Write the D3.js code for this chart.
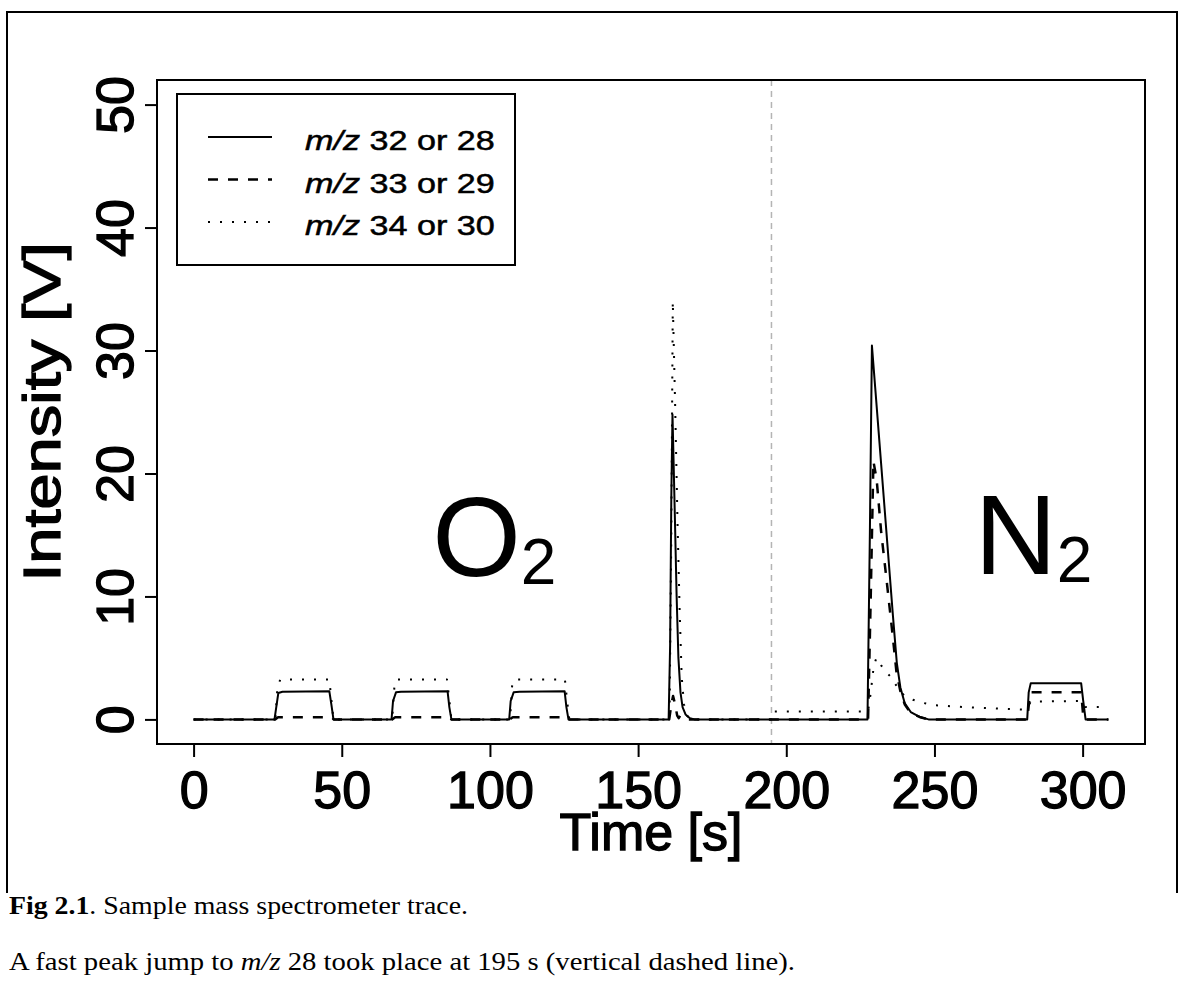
<!DOCTYPE html>
<html>
<head>
<meta charset="utf-8">
<script src="https://cdn.jsdelivr.net/npm/d3@7"></script>
<style>
  body { margin: 0; background: #fff; }
  svg { display: block; }
</style>
</head>
<body>
<script>
// Datos (tiempo en s, intensidad en V)
const t32 = [0, 27.3, 28.6, 30, 45.8, 46.5, 47.2, 66.8, 67.3, 68.3, 70, 85.7, 86.3, 87,
  106.5, 107, 108, 110, 125.2, 125.8, 126.5, 160.3, 160.8, 161.2, 161.6, 162.4, 163.0, 163.6,
  164.3, 165, 166, 167.5, 169, 227.4, 228.2, 228.9, 230, 232, 234, 236, 237.3, 238.5, 240,
  242, 245, 248, 281.3, 281.8, 282.5, 299.5, 300.2, 301, 308.7];
const v32 = [0, 0, 2.15, 2.25, 2.3, 1.2, 0, 0, 1.5, 2.2, 2.25, 2.3, 1.0, 0,
  0, 1.5, 2.2, 2.25, 2.3, 1.0, 0, 0, 6, 18, 24.8, 16.5, 10, 5,
  2.2, 1.0, 0.4, 0.1, 0, 0, 15, 30.4, 27, 20.8, 14.6, 8.4, 4.6, 2.6, 1.3,
  0.6, 0.2, 0, 0, 2.2, 2.95, 2.95, 1.5, 0, 0];

const t33 = [0, 27.5, 28.5, 46.5, 47.3, 67, 68, 86.3, 87, 106.7, 107.7, 125.8, 126.5,
  160.5, 161.2, 161.8, 162.5, 163.2, 163.7, 164.2, 165, 166, 227.6, 228.5, 229.4, 230.5,
  232, 234, 236, 237.2, 238.5, 240, 242, 245, 248, 281.3, 282.3, 299.5, 300.3, 308.7];
const v33 = [0, 0, 0.18, 0.18, 0, 0, 0.18, 0.18, 0, 0, 0.18, 0.18, 0,
  0, 1.2, 1.9, 1.2, 0.3, 0.1, 0.3, 0.15, 0, 0, 10, 21.0, 19.5,
  15.3, 11, 6.6, 3.8, 2.3, 1.2, 0.5, 0.2, 0, 0, 2.2, 2.2, 0, 0];

const t34 = [0, 27.6, 28.3, 29.3, 45.8, 46.5, 47.2, 67, 67.8, 68.5, 85.5, 86.3, 87,
  106.8, 107.5, 108.3, 125.3, 126, 126.8, 160.6, 161.2, 161.7, 162.5, 163.3, 164, 164.7,
  165.5, 166.5, 168, 195, 195.5, 227.6, 228.4, 229.5, 230.4, 232, 233.5, 235.5, 238, 240,
  242.7, 246, 250, 260, 270, 280, 281.5, 282.5, 299.5, 300.3, 301, 308.7];
const v34 = [0, 0, 2.7, 3.25, 3.25, 1.6, 0, 0, 2.8, 3.25, 3.25, 1.6, 0,
  0, 2.8, 3.25, 3.25, 1.6, 0, 0, 15, 34, 25.5, 16, 9, 3.5,
  1.2, 0.3, 0, 0, 0.65, 0.65, 2, 4.3, 5.0, 4.4, 3.9, 3.4, 2.4, 1.9,
  1.6, 1.35, 1.15, 1.0, 0.9, 0.8, 1.0, 1.45, 1.5, 1.2, 1.0, 1.0];

const xTicks = [0, 50, 100, 150, 200, 250, 300];
const yTicks = [0, 10, 20, 30, 40, 50];
const seriesNames = ["32 or 28", "33 or 29", "34 or 30"];
const peakJump = 195;

// Tamaño y área del gráfico
const W = 1181, H = 998;
const plot = {left: 157, right: 1145, top: 80, bottom: 744};
const sans = "'Liberation Sans', Arial, sans-serif";
const serif = "'Liberation Serif', 'Times New Roman', serif";

const svg = d3.select("body")
  .append("svg")
  .attr("width", W)
  .attr("height", H);

// Marco exterior de la figura
svg.append("path")
  .attr("d", "M7,893 V12 H1177 V893")
  .attr("fill", "none")
  .attr("stroke", "#000")
  .attr("stroke-width", 2);

// Escalas (rango de R extendido un 4%)
const xMax = d3.max(t32);
const x = d3.scaleLinear()
  .domain([-0.04 * xMax, xMax * 1.04])
  .range([plot.left, plot.right]);
const y = d3.scaleLinear()
  .domain([-2, 52])
  .range([plot.bottom, plot.top]);

// Línea vertical del salto de pico
svg.append("line")
  .attr("x1", x(peakJump)).attr("x2", x(peakJump))
  .attr("y1", plot.top).attr("y2", plot.bottom)
  .attr("stroke", "#b4b4b4")
  .attr("stroke-width", 1.5)
  .attr("stroke-dasharray", "6,5");

// Series
const styles = [
  {dash: null, width: 2},
  {dash: "10,10", width: 2.5},
  {dash: "2,10", width: 2}
];
const series = [
  t32.map((t, i) => [t, v32[i]]),
  t33.map((t, i) => [t, v33[i]]),
  t34.map((t, i) => [t, v34[i]])
];
const line = d3.line()
  .x(d => x(d[0]))
  .y(d => y(d[1]));

series.forEach((s, i) => {
  svg.append("path")
    .datum(s)
    .attr("d", line)
    .attr("fill", "none")
    .attr("stroke", "#000")
    .attr("stroke-width", styles[i].width)
    .attr("stroke-linejoin", "round")
    .attr("stroke-dasharray", styles[i].dash);
});

// Caja del gráfico
svg.append("rect")
  .attr("x", plot.left).attr("y", plot.top)
  .attr("width", plot.right - plot.left)
  .attr("height", plot.bottom - plot.top)
  .attr("fill", "none")
  .attr("stroke", "#000")
  .attr("stroke-width", 2);

// Eje X
const xAxis = svg.append("g")
  .attr("transform", `translate(0, ${plot.bottom})`)
  .call(d3.axisBottom(x).tickValues(xTicks).tickSize(13).tickSizeOuter(0));
xAxis.select(".domain").remove();
xAxis.selectAll("line").attr("stroke-width", 2);
xAxis.selectAll("text")
  .attr("y", 64)
  .attr("dy", 0)
  .style("font-family", sans)
  .style("font-size", "52px")
  .attr("fill", "#000")
  .attr("stroke", "#000")
  .attr("stroke-width", 1.3);

// Eje Y (etiquetas rotadas como en R)
const yAxis = svg.append("g")
  .attr("transform", `translate(${plot.left}, 0)`)
  .call(d3.axisLeft(y).tickValues(yTicks).tickSize(12).tickSizeOuter(0));
yAxis.select(".domain").remove();
yAxis.selectAll("line").attr("stroke-width", 2);
yAxis.selectAll("text")
  .attr("transform", "rotate(-90)")
  .attr("x", 0)
  .attr("y", -24)
  .attr("dy", 0)
  .attr("text-anchor", "middle")
  .style("font-family", sans)
  .style("font-size", "52px")
  .attr("fill", "#000")
  .attr("stroke", "#000")
  .attr("stroke-width", 1.3);

// Títulos de los ejes
svg.append("text")
  .attr("x", (plot.left + plot.right) / 2)
  .attr("y", 850)
  .attr("text-anchor", "middle")
  .style("font-family", sans)
  .style("font-size", "52px")
  .attr("stroke", "#000")
  .attr("stroke-width", 1.3)
  .text("Time [s]");

svg.append("text")
  .attr("transform", `translate(60, ${(plot.top + plot.bottom) / 2}) rotate(-90) scale(1.25, 1)`)
  .attr("text-anchor", "middle")
  .style("font-family", sans)
  .style("font-size", "52px")
  .attr("stroke", "#000")
  .attr("stroke-width", 1.3)
  .text("Intensity [V]");

// Etiquetas O2 y N2
[{label: "O", at: 80.5, base: 576}, {label: "N", at: 263.5, base: 574}].forEach(d => {
  const t = svg.append("text")
    .attr("x", x(d.at))
    .attr("y", d.base)
    .style("font-family", sans)
    .style("font-size", "114px");
  t.append("tspan").text(d.label);
  t.append("tspan")
    .attr("dy", 8)
    .style("font-size", "64px")
    .text("2");
});

// Leyenda
const legend = svg.append("g");
legend.append("rect")
  .attr("x", 177).attr("y", 94)
  .attr("width", 338).attr("height", 171)
  .attr("fill", "#fff")
  .attr("stroke", "#000")
  .attr("stroke-width", 2);

seriesNames.forEach((name, i) => {
  const yy = 137 + i * 42.5;
  legend.append("line")
    .attr("x1", 208).attr("x2", 272)
    .attr("y1", yy).attr("y2", yy)
    .attr("stroke", "#000")
    .attr("stroke-width", styles[i].width)
    .attr("stroke-dasharray", styles[i].dash);
  const t = legend.append("text")
    .attr("transform", `translate(305, ${yy + 13}) scale(1.22, 1)`)
    .style("font-family", sans)
    .style("font-size", "28px")
    .attr("stroke", "#000")
    .attr("stroke-width", 0.5);
  t.append("tspan").style("font-style", "italic").text("m/z");
  t.append("tspan").text(" " + name);
});

// Pie de figura
const cap1 = svg.append("text")
  .attr("x", 9).attr("y", 914)
  .attr("textLength", 459)
  .attr("lengthAdjust", "spacingAndGlyphs")
  .style("font-family", serif)
  .style("font-size", "26px");
cap1.append("tspan").style("font-weight", "bold").text("Fig 2.1");
cap1.append("tspan").text(". Sample mass spectrometer trace.");

const cap2 = svg.append("text")
  .attr("x", 9).attr("y", 970)
  .attr("textLength", 786)
  .attr("lengthAdjust", "spacingAndGlyphs")
  .style("font-family", serif)
  .style("font-size", "26px");
cap2.append("tspan").text("A fast peak jump to ");
cap2.append("tspan").style("font-style", "italic").text("m/z");
cap2.append("tspan").text(" 28 took place at 195 s (vertical dashed line).");
</script>
</body>
</html>
